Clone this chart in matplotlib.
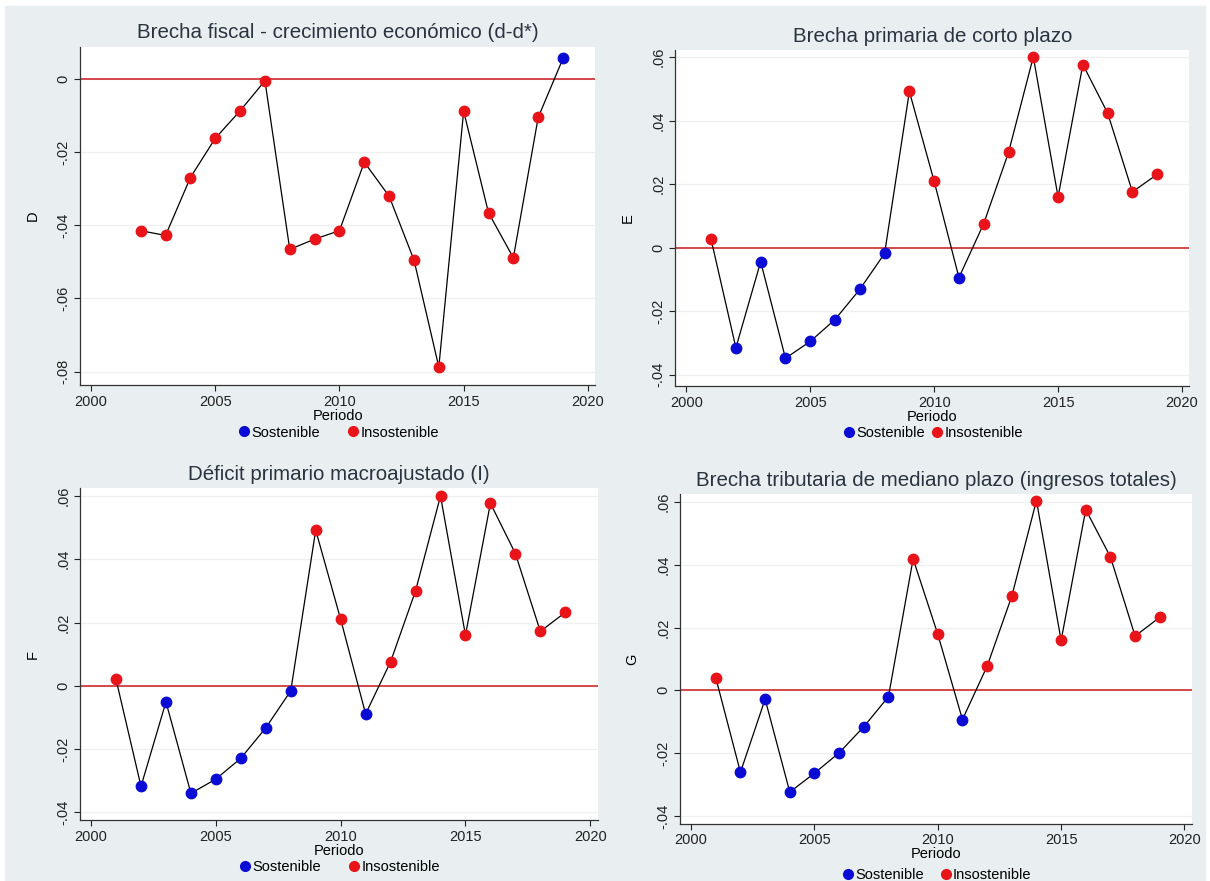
import numpy as np
import matplotlib
matplotlib.use("Agg")
import matplotlib.pyplot as plt
from matplotlib.lines import Line2D

# data
years_d = list(range(2002, 2020))
d_vals = [-0.0415, -0.0428, -0.0270, -0.0163, -0.0088, -0.0006, -0.0466, -0.0438,
          -0.0415, -0.0228, -0.0321, -0.0495, -0.0787, -0.0089, -0.0366, -0.0489,
          -0.0106, 0.0055]

years = list(range(2001, 2020))
e_vals = [0.0026, -0.0315, -0.0044, -0.0348, -0.0295, -0.0226, -0.0131, -0.0018,
          0.0492, 0.0209, -0.0094, 0.0076, 0.0300, 0.0601, 0.0160, 0.0577,
          0.0424, 0.0176, 0.0231]
f_vals = [0.0020, -0.0318, -0.0051, -0.0340, -0.0295, -0.0229, -0.0133, -0.0016,
          0.0492, 0.0210, -0.0089, 0.0076, 0.0300, 0.0600, 0.0160, 0.0577,
          0.0418, 0.0172, 0.0232]
g_vals = [0.0040, -0.0261, -0.0028, -0.0324, -0.0264, -0.0199, -0.0116, -0.0020,
          0.0419, 0.0179, -0.0093, 0.0077, 0.0300, 0.0605, 0.0159, 0.0576,
          0.0425, 0.0173, 0.0233]

titles = ["Brecha fiscal - crecimiento económico (d-d*)",
          "Brecha primaria de corto plazo",
          "Déficit primario macroajustado (I)",
          "Brecha tributaria de mediano plazo (ingresos totales)"]
ylabels = ["D", "E", "F", "G"]
xticks = [2000, 2005, 2010, 2015, 2020]
yticks_d = [-0.08, -0.06, -0.04, -0.02, 0.0]
yticks_e = [-0.04, -0.02, 0.0, 0.02, 0.04, 0.06]

plt.rcParams['font.family'] = ['Liberation Sans', 'DejaVu Sans']

BG = '#e9eff0'
BLUE = '#0b0bd6'
RED = '#e8141a'
TITLE_C = '#2a3440'


def fmt(v):
    if abs(v) < 1e-9:
        return "0"
    s = "%.2f" % v
    return s.replace("0.", ".")


fig = plt.figure(figsize=(12.1, 8.81), dpi=100, facecolor='white')
# light background band inside a thin white border
fig.patches.append(plt.Rectangle((5 / 1210, 0), 1 - 10 / 1210, 1 - 6 / 881,
                                 transform=fig.transFigure, color=BG, zorder=-10))

positions = [[0.066, 0.563, 0.426, 0.384],
             [0.558, 0.562, 0.425, 0.381],
             [0.066, 0.069, 0.428, 0.377],
             [0.562, 0.065, 0.423, 0.374]]
panels = [(years_d, d_vals, yticks_d, (-0.0836, 0.0087)),
          (years, e_vals, yticks_e, (-0.0435, 0.0622)),
          (years, f_vals, yticks_e, (-0.0425, 0.0625)),
          (years, g_vals, yticks_e, (-0.0425, 0.0625))]
leg_y = [-0.094, -0.094, -0.094, -0.108]
leg_gap = [1.8, 0.3, 1.8, 1.0]

for i, (x, y, yt, ylim) in enumerate(panels):
    ax = fig.add_axes(positions[i])
    ax.set_facecolor('white')
    x = np.array(x)
    y = np.array(y)
    for v in yt:
        ax.axhline(v, color='#f0f0f0', lw=1.0, zorder=0)
    ax.axhline(0, color='#d4484b', lw=1.4, zorder=1)
    ax.plot(x, y, color='black', lw=0.9, zorder=2)
    sost = y > 0 if i == 0 else y < 0
    ax.plot(x[sost], y[sost], 'o', color=BLUE, ms=7.5, zorder=3)
    ax.plot(x[~sost], y[~sost], 'o', color=RED, ms=7.5, zorder=3)

    ax.set_xlim(1999.55, 2020.3)
    ax.set_ylim(*ylim)
    ax.set_xticks(xticks)
    ax.set_yticks(yt)
    ax.set_yticklabels([fmt(v) for v in yt], rotation=90, va='center')
    ax.tick_params(axis='both', labelsize=10.5, colors='#222222', length=4,
                   width=0.8, pad=3)
    for s in ['top', 'right']:
        ax.spines[s].set_visible(False)
    for s in ['left', 'bottom']:
        ax.spines[s].set_color('#333333')
        ax.spines[s].set_linewidth(0.9)
    ax.set_title(titles[i], fontsize=14.8, color=TITLE_C, pad=6)
    ax.set_ylabel(ylabels[i], fontsize=10.5, labelpad=12)
    ax.set_xlabel("Periodo", fontsize=10.5, labelpad=0)

    handles = [Line2D([], [], marker='o', ls='', color=BLUE, ms=7),
               Line2D([], [], marker='o', ls='', color=RED, ms=7)]
    ax.legend(handles, ["Sostenible", "Insostenible"], loc='upper center',
              bbox_to_anchor=(0.5, leg_y[i]), ncol=2, frameon=False,
              fontsize=10.5, handletextpad=0.0, columnspacing=leg_gap[i],
              handlelength=1.0, borderpad=0.1)

fig.savefig("out.png", dpi=100, facecolor='white')
